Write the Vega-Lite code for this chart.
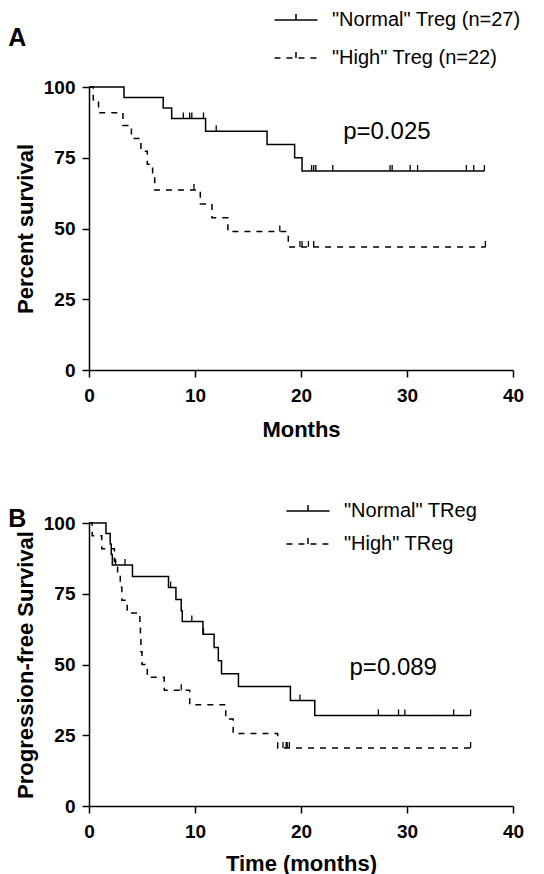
{
  "$schema": "https://vega.github.io/schema/vega-lite/v6.json",
  "padding": {"left": 8, "top": 10, "right": 0, "bottom": 0},
  "background": "white",
  "spacing": 61,
  "config": {
    "font": "Liberation Sans",
    "view": {"stroke": null},
    "axis": {
      "domainColor": "black", "domainWidth": 1.5, "tickColor": "black", "tickWidth": 1.5, "tickSize": 7,
      "labelFontSize": 19, "labelFontWeight": "bold", "labelColor": "black", "labelFont": "Liberation Sans",
      "titleFontSize": 22, "titleFontWeight": "bold", "titleColor": "black", "titleFont": "Liberation Sans",
      "grid": false, "labelFlush": false
    },
    "axisX": {"labelPadding": 9, "titlePadding": 14},
    "axisY": {"labelPadding": 7, "titlePadding": 6},
    "legend": {
      "orient": "none", "padding": 0, "labelFont": "Liberation Sans", "labelColor": "black", "labelLimit": 400,
      "symbolType": "M-4,0H4M0,0V-1.1", "symbolSize": 116, "symbolStrokeColor": "black",
      "symbolStrokeWidth": 1.5, "symbolFillColor": "transparent", "labelOffset": 26, "title": null
    },
    "title": {"font": "Liberation Sans", "fontSize": 25, "fontWeight": "bold", "color": "black", "anchor": "start", "frame": "bounds"}
  },
  "vconcat": [
    {
      "title": {"text": "A", "offset": 4, "dy": 45, "dx": -6},
      "width": 424,
      "height": 283,
      "layer": [
        {
          "data": {"values": [
            {"group": "\"Normal\" Treg (n=27)", "month": 0, "survival": 100},
            {"group": "\"Normal\" Treg (n=27)", "month": 3.3, "survival": 96.3},
            {"group": "\"Normal\" Treg (n=27)", "month": 7.0, "survival": 92.6},
            {"group": "\"Normal\" Treg (n=27)", "month": 7.8, "survival": 88.9},
            {"group": "\"Normal\" Treg (n=27)", "month": 11.0, "survival": 84.4},
            {"group": "\"Normal\" Treg (n=27)", "month": 16.8, "survival": 79.7},
            {"group": "\"Normal\" Treg (n=27)", "month": 19.4, "survival": 75.0},
            {"group": "\"Normal\" Treg (n=27)", "month": 20.1, "survival": 70.3},
            {"group": "\"Normal\" Treg (n=27)", "month": 37.3, "survival": 70.3},
            {"group": "\"High\" Treg (n=22)", "month": 0, "survival": 100},
            {"group": "\"High\" Treg (n=22)", "month": 0.4, "survival": 95.5},
            {"group": "\"High\" Treg (n=22)", "month": 0.9, "survival": 90.9},
            {"group": "\"High\" Treg (n=22)", "month": 3.2, "survival": 86.4},
            {"group": "\"High\" Treg (n=22)", "month": 4.0, "survival": 81.8},
            {"group": "\"High\" Treg (n=22)", "month": 4.9, "survival": 77.3},
            {"group": "\"High\" Treg (n=22)", "month": 5.5, "survival": 72.7},
            {"group": "\"High\" Treg (n=22)", "month": 6.0, "survival": 68.2},
            {"group": "\"High\" Treg (n=22)", "month": 6.2, "survival": 63.6},
            {"group": "\"High\" Treg (n=22)", "month": 10.5, "survival": 58.7},
            {"group": "\"High\" Treg (n=22)", "month": 11.6, "survival": 53.8},
            {"group": "\"High\" Treg (n=22)", "month": 13.1, "survival": 48.9},
            {"group": "\"High\" Treg (n=22)", "month": 18.8, "survival": 43.5},
            {"group": "\"High\" Treg (n=22)", "month": 37.4, "survival": 43.5}
          ]},
          "mark": {"type": "line", "interpolate": "step-after", "color": "black", "strokeWidth": 1.5},
          "encoding": {
            "x": {"field": "month", "type": "quantitative", "scale": {"domain": [0, 40], "nice": false}, "axis": {"title": "Months", "values": [0, 10, 20, 30, 40]}},
            "y": {"field": "survival", "type": "quantitative", "scale": {"domain": [0, 100], "nice": false}, "axis": {"title": "Percent survival", "values": [0, 25, 50, 75, 100]}},
            "strokeDash": {
              "field": "group", "type": "nominal",
              "scale": {"domain": ["\"Normal\" Treg (n=27)", "\"High\" Treg (n=22)"], "range": [[1, 0], [6, 6]]},
              "legend": {"legendX": 197, "legendY": -77, "labelFontSize": 20, "rowPadding": 18}
            }
          }
        },
        {
          "data": {"values": [
            {"group": "Normal", "month": 8.9, "survival": 88.9},
            {"group": "Normal", "month": 9.5, "survival": 88.9},
            {"group": "Normal", "month": 9.7, "survival": 88.9},
            {"group": "Normal", "month": 10.8, "survival": 88.9},
            {"group": "Normal", "month": 12.0, "survival": 84.4},
            {"group": "Normal", "month": 21.0, "survival": 70.3},
            {"group": "Normal", "month": 21.2, "survival": 70.3},
            {"group": "Normal", "month": 21.4, "survival": 70.3},
            {"group": "Normal", "month": 23.0, "survival": 70.3},
            {"group": "Normal", "month": 28.4, "survival": 70.3},
            {"group": "Normal", "month": 28.6, "survival": 70.3},
            {"group": "Normal", "month": 30.3, "survival": 70.3},
            {"group": "Normal", "month": 31.0, "survival": 70.3},
            {"group": "Normal", "month": 35.6, "survival": 70.3},
            {"group": "Normal", "month": 36.3, "survival": 70.3},
            {"group": "Normal", "month": 37.3, "survival": 70.3},
            {"group": "High", "month": 9.9, "survival": 63.6},
            {"group": "High", "month": 18.0, "survival": 48.9},
            {"group": "High", "month": 19.9, "survival": 43.5},
            {"group": "High", "month": 20.1, "survival": 43.5},
            {"group": "High", "month": 20.7, "survival": 43.5},
            {"group": "High", "month": 21.2, "survival": 43.5},
            {"group": "High", "month": 37.4, "survival": 43.5}
          ]},
          "mark": {"type": "tick", "orient": "vertical", "size": 6, "thickness": 1.3, "yOffset": -3, "color": "black", "opacity": 1},
          "encoding": {
            "x": {"field": "month", "type": "quantitative"},
            "y": {"field": "survival", "type": "quantitative"}
          }
        },
        {
          "data": {"values": [{"label": "p=0.025"}]},
          "mark": {"type": "text", "fontSize": 24, "color": "black", "font": "Liberation Sans"},
          "encoding": {
            "x": {"datum": 28.1},
            "y": {"datum": 84},
            "text": {"field": "label"}
          }
        }
      ]
    },
    {
      "title": {"text": "B", "offset": 4, "dy": 35, "dx": -6},
      "width": 424,
      "height": 283,
      "layer": [
        {
          "data": {"values": [
            {"group": "\"Normal\" TReg", "month": 0, "survival": 100},
            {"group": "\"Normal\" TReg", "month": 1.6, "survival": 96.3},
            {"group": "\"Normal\" TReg", "month": 2.0, "survival": 92.6},
            {"group": "\"Normal\" TReg", "month": 2.1, "survival": 88.9},
            {"group": "\"Normal\" TReg", "month": 2.2, "survival": 85.2},
            {"group": "\"Normal\" TReg", "month": 4.1, "survival": 81.1},
            {"group": "\"Normal\" TReg", "month": 7.5, "survival": 77.2},
            {"group": "\"Normal\" TReg", "month": 8.2, "survival": 73.0},
            {"group": "\"Normal\" TReg", "month": 8.7, "survival": 69.0},
            {"group": "\"Normal\" TReg", "month": 8.8, "survival": 65.2},
            {"group": "\"Normal\" TReg", "month": 10.75, "survival": 60.7},
            {"group": "\"Normal\" TReg", "month": 11.8, "survival": 56.0},
            {"group": "\"Normal\" TReg", "month": 12.2, "survival": 51.3},
            {"group": "\"Normal\" TReg", "month": 12.5, "survival": 46.7},
            {"group": "\"Normal\" TReg", "month": 14.1, "survival": 42.2},
            {"group": "\"Normal\" TReg", "month": 19.0, "survival": 37.3},
            {"group": "\"Normal\" TReg", "month": 21.3, "survival": 32.0},
            {"group": "\"Normal\" TReg", "month": 36.0, "survival": 32.0},
            {"group": "\"High\" TReg", "month": 0, "survival": 100},
            {"group": "\"High\" TReg", "month": 0.3, "survival": 95.5},
            {"group": "\"High\" TReg", "month": 1.2, "survival": 90.9},
            {"group": "\"High\" TReg", "month": 2.4, "survival": 86.4},
            {"group": "\"High\" TReg", "month": 2.7, "survival": 81.8},
            {"group": "\"High\" TReg", "month": 2.95, "survival": 77.3},
            {"group": "\"High\" TReg", "month": 3.1, "survival": 72.7},
            {"group": "\"High\" TReg", "month": 3.6, "survival": 68.2},
            {"group": "\"High\" TReg", "month": 4.8, "survival": 63.6},
            {"group": "\"High\" TReg", "month": 4.85, "survival": 59.1},
            {"group": "\"High\" TReg", "month": 4.9, "survival": 54.5},
            {"group": "\"High\" TReg", "month": 5.0, "survival": 50.0},
            {"group": "\"High\" TReg", "month": 5.5, "survival": 45.5},
            {"group": "\"High\" TReg", "month": 7.1, "survival": 40.9},
            {"group": "\"High\" TReg", "month": 9.5, "survival": 35.8},
            {"group": "\"High\" TReg", "month": 12.9, "survival": 30.7},
            {"group": "\"High\" TReg", "month": 13.6, "survival": 25.6},
            {"group": "\"High\" TReg", "month": 17.8, "survival": 20.5},
            {"group": "\"High\" TReg", "month": 36.0, "survival": 20.5}
          ]},
          "mark": {"type": "line", "interpolate": "step-after", "color": "black", "strokeWidth": 1.5},
          "encoding": {
            "x": {"field": "month", "type": "quantitative", "scale": {"domain": [0, 40], "nice": false}, "axis": {"title": "Time (months)", "values": [0, 10, 20, 30, 40], "titlePadding": 12}},
            "y": {"field": "survival", "type": "quantitative", "scale": {"domain": [0, 100], "nice": false}, "axis": {"title": "Progression-free Survival", "values": [0, 25, 50, 75, 100]}},
            "strokeDash": {
              "field": "group", "type": "nominal",
              "scale": {"domain": ["\"Normal\" TReg", "\"High\" TReg"], "range": [[1, 0], [6, 6]]},
              "legend": {"legendX": 209, "legendY": -22, "labelFontSize": 20, "rowPadding": 13}
            }
          }
        },
        {
          "data": {"values": [
            {"group": "Normal", "month": 2.5, "survival": 85.2},
            {"group": "Normal", "month": 3.4, "survival": 85.2},
            {"group": "Normal", "month": 7.7, "survival": 77.2},
            {"group": "Normal", "month": 9.7, "survival": 65.2},
            {"group": "Normal", "month": 10.8, "survival": 60.7},
            {"group": "Normal", "month": 19.9, "survival": 37.3},
            {"group": "Normal", "month": 27.3, "survival": 32.0},
            {"group": "Normal", "month": 29.2, "survival": 32.0},
            {"group": "Normal", "month": 29.8, "survival": 32.0},
            {"group": "Normal", "month": 34.4, "survival": 32.0},
            {"group": "Normal", "month": 36.0, "survival": 32.0},
            {"group": "High", "month": 8.7, "survival": 40.9},
            {"group": "High", "month": 18.3, "survival": 20.5},
            {"group": "High", "month": 18.6, "survival": 20.5},
            {"group": "High", "month": 18.7, "survival": 20.5},
            {"group": "High", "month": 18.9, "survival": 20.5},
            {"group": "High", "month": 36.0, "survival": 20.5}
          ]},
          "mark": {"type": "tick", "orient": "vertical", "size": 6, "thickness": 1.3, "yOffset": -3, "color": "black", "opacity": 1},
          "encoding": {
            "x": {"field": "month", "type": "quantitative"},
            "y": {"field": "survival", "type": "quantitative"}
          }
        },
        {
          "data": {"values": [{"label": "p=0.089"}]},
          "mark": {"type": "text", "fontSize": 24, "color": "black", "font": "Liberation Sans"},
          "encoding": {
            "x": {"datum": 28.7},
            "y": {"datum": 48.8},
            "text": {"field": "label"}
          }
        }
      ]
    }
  ],
  "resolve": {"scale": {"strokeDash": "independent"}, "legend": {"strokeDash": "independent"}}
}
